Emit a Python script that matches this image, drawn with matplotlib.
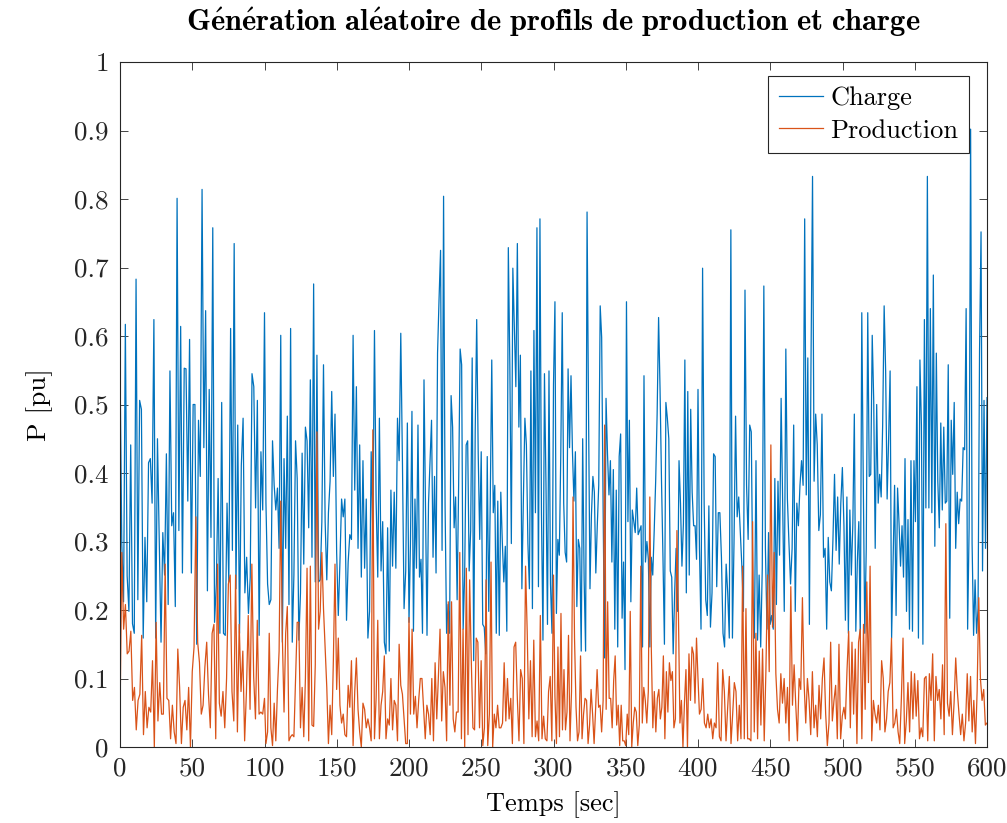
import numpy as np
import matplotlib
matplotlib.use("Agg")
import matplotlib.pyplot as plt
from matplotlib.ticker import FuncFormatter

# ---------------- data ----------------
segment_bounds = [(0, 100), (101, 200), (201, 300), (301, 400), (401, 501), (502, 600)]

charge_seg1 = [0.558,0.297,0.212,0.617,0.250,0.198,0.441,0.180,0.166,0.683,0.215,0.506,0.493,0.159,0.306,0.212,0.415,0.421,0.356,0.624,
               0.159,0.450,0.300,0.153,0.313,0.251,0.428,0.208,0.549,0.323,0.342,0.205,0.801,0.316,0.614,0.254,0.553,0.552,0.359,0.595,
               0.254,0.500,0.500,0.150,0.477,0.395,0.814,0.437,0.637,0.228,0.522,0.306,0.758,0.182,0.238,0.392,0.166,0.503,0.166,0.163,
               0.356,0.241,0.611,0.287,0.735,0.231,0.470,0.166,0.411,0.480,0.225,0.277,0.195,0.248,0.545,0.526,0.349,0.506,0.163,0.431,
               0.346,0.634]
charge_seg2 = [0.356,0.238,0.208,0.215,0.447,0.382,0.346,0.378,0.290,0.601,0.153,0.421,0.290,0.483,0.208,0.611,0.153,0.251,0.447,0.392,
               0.156,0.225,0.429,0.267,0.467,0.447,0.320,0.536,0.277,0.676,0.241,0.572,0.241,0.244,0.329,0.558,0.329,0.244,0.342,0.388,
               0.519,0.395,0.486,0.284,0.192,0.270,0.362,0.336,0.362,0.185,0.270,0.310,0.303,0.601,0.375,0.526,0.290,0.441,0.248,0.418,
               0.261,0.362,0.159,0.198,0.431,0.310,0.608,0.359,0.248,0.480,0.257,0.329,0.153,0.136,0.320,0.140,0.375,0.264,0.372,0.261,
               0.480,0.418,0.604,0.418,0.202,0.257,0.473,0.182]
charge_seg3 = [0.297,0.490,0.169,0.362,0.261,0.470,0.248,0.274,0.166,0.536,0.356,0.163,0.356,0.418,0.477,0.277,0.395,0.254,0.575,0.654,
               0.725,0.287,0.804,0.352,0.166,0.208,0.166,0.513,0.467,0.320,0.365,0.215,0.382,0.581,0.558,0.172,0.251,0.441,0.447,0.257,
               0.316,0.568,0.126,0.460,0.624,0.428,0.303,0.431,0.179,0.175,0.136,0.424,0.198,0.359,0.565,0.342,0.382,0.166,0.359,0.163,
               0.372,0.300,0.241,0.293,0.169,0.729,0.558,0.297,0.699,0.611,0.526,0.735,0.467,0.572,0.231,0.362,0.480,0.441,0.297,0.231,
               0.549,0.202,0.608,0.342,0.758,0.234,0.771,0.342,0.156,0.545,0.385,0.179,0.549,0.238,0.166,0.529]
charge_seg4 = [0.650,0.195,0.303,0.280,0.428,0.634,0.356,0.284,0.270,0.552,0.437,0.542,0.431,0.359,0.431,0.205,0.303,0.290,0.140,0.450,
               0.244,0.140,0.781,0.493,0.231,0.339,0.395,0.372,0.254,0.323,0.382,0.644,0.598,0.349,0.130,0.509,0.428,0.368,0.418,0.270,
               0.405,0.172,0.375,0.146,0.424,0.457,0.188,0.270,0.113,0.650,0.329,0.477,0.212,0.346,0.329,0.313,0.378,0.310,0.316,0.323,
               0.146,0.542,0.270,0.300,0.274,0.146,0.277,0.251,0.316,0.388,0.486,0.627,0.522,0.388,0.277,0.150,0.503,0.480,0.450,0.257,
               0.248,0.136,0.225,0.290,0.198,0.418,0.356,0.264,0.326,0.565,0.225,0.519,0.251,0.493,0.372,0.323,0.323,0.274,0.522]
charge_seg5 = [0.290,0.172,0.699,0.356,0.215,0.192,0.352,0.175,0.225,0.428,0.424,0.234,0.342,0.342,0.277,0.166,0.146,0.267,0.225,0.159,
               0.755,0.159,0.297,0.483,0.336,0.365,0.316,0.264,0.198,0.667,0.382,0.303,0.470,0.460,0.225,0.159,0.418,0.156,0.251,0.146,
               0.261,0.673,0.290,0.172,0.313,0.179,0.192,0.172,0.392,0.208,0.388,0.280,0.509,0.349,0.198,0.581,0.362,0.297,0.238,0.290,
               0.470,0.198,0.356,0.323,0.382,0.418,0.382,0.771,0.368,0.568,0.179,0.555,0.833,0.388,0.486,0.441,0.316,0.339,0.486,0.277,
               0.290,0.172,0.306,0.241,0.228,0.303,0.398,0.287,0.365,0.267,0.356,0.408,0.323]
charge_seg6 = [0.185,0.365,0.166,0.346,0.251,0.326,0.486,0.169,0.270,0.329,0.159,0.634,0.388,0.166,0.290,0.634,0.395,0.398,0.601,0.506,
               0.290,0.500,0.356,0.398,0.365,0.470,0.644,0.549,0.362,0.450,0.549,0.159,0.270,0.382,0.192,0.378,0.326,0.264,0.323,0.248,
               0.421,0.198,0.332,0.172,0.418,0.169,0.418,0.329,0.526,0.159,0.565,0.470,0.150,0.624,0.349,0.833,0.349,0.640,0.342,0.689,
               0.293,0.575,0.388,0.320,0.473,0.346,0.467,0.356,0.359,0.558,0.188,0.477,0.398,0.503,0.290,0.372,0.326,0.362,0.359,0.437,
               0.434,0.640,0.172,0.320,0.902,0.297,0.163,0.244,0.166,0.202,0.578,0.752,0.257,0.506,0.290,0.510]

prod_seg1 = [0.038,0.284,0.172,0.208,0.136,0.140,0.169,0.068,0.087,0.025,0.068,0.077,0.163,0.018,0.081,0.028,0.058,0.051,0.126,0.000,
             0.182,0.038,0.094,0.048,0.048,0.267,0.071,0.068,0.012,0.061,0.022,0.005,0.143,0.087,0.005,0.058,0.068,0.025,0.087,0.000,
             0.110,0.146,0.336,0.153,0.123,0.048,0.061,0.117,0.153,0.077,0.028,0.166,0.179,0.012,0.267,0.064,0.045,0.081,0.028,0.100,
             0.238,0.251,0.081,0.038,0.251,0.022,0.179,0.081,0.140,0.009,0.081,0.192,0.055,0.267,0.103,0.041,0.185,0.048,0.051,0.048,
             0.071]
prod_seg2 = [0.005,0.022,0.166,0.028,0.002,0.064,0.009,0.084,0.140,0.359,0.159,0.051,0.166,0.205,0.009,0.015,0.018,0.015,0.100,0.182,
             0.182,0.028,0.087,0.015,0.100,0.261,0.009,0.264,0.032,0.030,0.120,0.460,0.172,0.198,0.284,0.202,0.143,0.087,0.005,0.061,
             0.018,0.126,0.267,0.084,0.159,0.061,0.035,0.048,0.018,0.015,0.090,0.058,0.126,0.002,0.081,0.130,0.055,0.022,0.000,0.064,
             0.055,0.028,0.041,0.028,0.009,0.463,0.012,0.071,0.185,0.012,0.061,0.081,0.133,0.012,0.041,0.032,0.100,0.025,0.068,0.061,
             0.009,0.150,0.090,0.077,0.041,0.005,0.005,0.189]
prod_seg3 = [0.048,0.172,0.048,0.074,0.028,0.068,0.100,0.100,0.055,0.012,0.061,0.048,0.018,0.100,0.009,0.123,0.041,0.103,0.172,0.038,
             0.110,0.087,0.009,0.212,0.061,0.212,0.041,0.022,0.051,0.051,0.284,0.012,0.172,0.000,0.261,0.018,0.244,0.126,0.028,0.025,
             0.159,0.153,0.028,0.126,0.002,0.028,0.244,0.002,0.048,0.270,0.000,0.048,0.028,0.061,0.028,0.028,0.035,0.123,0.038,0.100,
             0.041,0.071,0.005,0.146,0.153,0.071,0.009,0.113,0.100,0.005,0.264,0.169,0.041,0.126,0.015,0.156,0.015,0.038,0.009,0.192,
             0.012,0.045,0.012,0.009,0.081,0.103,0.009,0.251]
prod_seg4 = [0.074,0.005,0.146,0.015,0.195,0.025,0.113,0.025,0.051,0.163,0.009,0.081,0.365,0.159,0.058,0.009,0.022,0.133,0.012,0.048,
             0.071,0.068,0.005,0.032,0.084,0.048,0.005,0.055,0.113,0.058,0.061,0.022,0.068,0.470,0.055,0.212,0.071,0.071,0.028,0.097,
             0.133,0.032,0.061,0.002,0.061,0.009,0.009,0.002,0.048,0.018,0.198,0.000,0.035,0.058,0.051,0.002,0.032,0.264,0.035,0.087,
             0.068,0.035,0.081,0.365,0.143,0.028,0.081,0.022,0.071,0.084,0.041,0.058,0.133,0.012,0.110,0.051,0.123,0.097,0.110,0.028,
             0.041,0.316,0.195,0.035,0.068,0.000,0.064,0.113,0.000,0.136,0.068,0.146,0.136,0.064,0.159,0.100]
prod_seg5 = [0.048,0.055,0.100,0.035,0.028,0.048,0.028,0.041,0.012,0.035,0.028,0.123,0.015,0.009,0.113,0.081,0.009,0.058,0.103,0.005,
             0.048,0.094,0.081,0.009,0.061,0.012,0.264,0.012,0.202,0.012,0.012,0.009,0.329,0.022,0.166,0.012,0.140,0.032,0.143,0.009,
             0.110,0.251,0.110,0.441,0.175,0.284,0.107,0.055,0.035,0.107,0.064,0.100,0.035,0.087,0.009,0.234,0.061,0.120,0.061,0.009,
             0.100,0.084,0.218,0.094,0.035,0.100,0.068,0.018,0.110,0.028,0.061,0.015,0.090,0.041,0.100,0.130,0.048,0.002,0.035,0.153,
             0.038,0.068,0.090,0.012,0.150,0.012,0.045,0.058]
prod_seg6 = [0.041,0.113,0.169,0.028,0.153,0.048,0.143,0.005,0.153,0.172,0.012,0.179,0.055,0.241,0.094,0.264,0.009,0.068,0.048,0.035,
             0.061,0.025,0.126,0.100,0.022,0.041,0.081,0.094,0.159,0.028,0.035,0.055,0.022,0.005,0.071,0.159,0.005,0.038,0.094,0.022,
             0.110,0.041,0.107,0.045,0.097,0.012,0.028,0.015,0.100,0.103,0.009,0.107,0.068,0.136,0.009,0.103,0.068,0.084,0.041,0.120,
             0.018,0.326,0.064,0.045,0.081,0.018,0.064,0.130,0.081,0.048,0.018,0.048,0.009,0.035,0.107,0.038,0.103,0.022,0.068,0.005,
             0.081,0.218,0.100,0.068,0.084,0.032,0.035]

x_ticks = list(range(0, 601, 50))
y_ticks = [0, 0.1, 0.2, 0.3, 0.4, 0.5, 0.6, 0.7, 0.8, 0.9, 1]
series_labels = ["Charge", "Production"]


def build(segments):
    t = np.concatenate([np.linspace(a, b, len(v)) for (a, b), v in zip(segment_bounds, segments)])
    y = np.concatenate([np.asarray(v, dtype=float) for v in segments])
    return t, y


t_c, charge = build([charge_seg1, charge_seg2, charge_seg3, charge_seg4, charge_seg5, charge_seg6])
t_p, prod = build([prod_seg1, prod_seg2, prod_seg3, prod_seg4, prod_seg5, prod_seg6])

# ---------------- style ----------------
plt.rcParams["font.family"] = "cmr10"
plt.rcParams["mathtext.fontset"] = "cm"
plt.rcParams["axes.formatter.use_mathtext"] = True
plt.rcParams["axes.unicode_minus"] = False

W, H = 1007, 823
fig = plt.figure(figsize=(W / 100, H / 100), dpi=100)
L, R, T, B = 120, 987, 62, 747
ax = fig.add_axes([L / W, 1 - B / H, (R - L) / W, (B - T) / H])

ax.plot(t_c, charge, color="#0072BD", lw=0.9, label=series_labels[0])
ax.plot(t_p, prod, color="#D95319", lw=0.9, label=series_labels[1])

ax.set_xlim(0, 600)
ax.set_ylim(0, 1)
ax.set_xticks(x_ticks)
ax.set_yticks(y_ticks)
ax.xaxis.set_major_formatter(FuncFormatter(lambda v, p: f"{v:g}"))
ax.yaxis.set_major_formatter(FuncFormatter(lambda v, p: f"{v:g}"))
ax.tick_params(direction="in", length=6, width=0.6, colors="#262626",
               top=True, right=True, labelsize=19.5)
ax.tick_params(axis="x", pad=7)
ax.tick_params(axis="y", pad=8)
for s in ax.spines.values():
    s.set_color("#262626")
    s.set_linewidth(0.8)

leg = ax.legend(loc="upper right", bbox_to_anchor=((969 - L) / (R - L), (B - 76) / (B - T)),
                borderaxespad=0, fancybox=False, framealpha=1, edgecolor="#262626",
                fontsize=19, handlelength=1.65, handletextpad=0.3, labelspacing=0.33,
                borderpad=0.4)
leg.get_frame().set_linewidth(0.8)

cx = (L + R) / 2 / W
fig.text(cx, 1 - 22 / H,
         r"$\mathbf{G\acute{e}n\acute{e}ration\ al\acute{e}atoire\ de\ profils\ de\ production\ et\ charge}$",
         ha="center", va="center", fontsize=22, color="black")
fig.text(cx, 1 - 805 / H, "Temps [sec]", ha="center", va="center", fontsize=19)
fig.text(40 / W, 1 - 405 / H, "P [pu]", ha="center", va="center", rotation=90, fontsize=19.5)

fig.savefig("out.png", dpi=100)
